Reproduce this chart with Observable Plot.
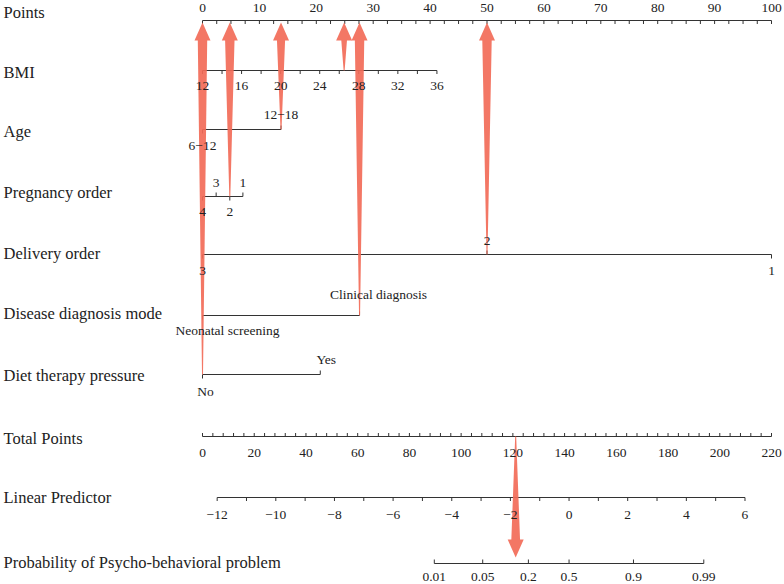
<!DOCTYPE html>
<html>
<head>
<meta charset="utf-8">
<script src="https://cdn.jsdelivr.net/npm/d3@7"></script>
<script src="https://cdn.jsdelivr.net/npm/@observablehq/plot@0.6"></script>
<style>
  body { margin: 0; background: #fff; }
  #chart svg { display: block; }
</style>
</head>
<body>
<div id="chart"></div>
<script>
// ---- Nomogram scales: values of each predictor and the points they score ----
const pointsTicks = d3.range(0, 101, 10);
const pointsMinorStep = 2.5;

const bmiTicks = [12, 16, 20, 24, 28, 32, 36];
const bmiMinorStep = 2;
const bmiRange = [12, 36];
const bmiPointsRange = [0, 41.2];

const ageLevels = ["6−12", "12−18"];
const agePoints = [0, 13.8];

const pregnancyLevels = ["4", "3", "2", "1"];
const pregnancyPoints = [0, 2.4, 4.8, 7.1];

const deliveryLevels = ["3", "2", "1"];
const deliveryPoints = [0, 50, 100];

const diagnosisLevels = ["Neonatal screening", "Clinical diagnosis"];
const diagnosisPoints = [0, 27.6];

const dietLevels = ["No", "Yes"];
const dietPoints = [0, 20.7];

const totalTicks = d3.range(0, 221, 20);
const totalMinorStep = 4;
const totalMax = 220;

const lpTicks = d3.range(-12, 7, 2);
const lpMinorStep = 1;
const lpRange = [-12, 6];
const lpIntercept = -12.5;   // linear predictor = intercept + slope * total points
const lpSlope = 0.0882;

const probTicks = [0.01, 0.05, 0.2, 0.5, 0.9, 0.99];

// ---- Worked example read through the nomogram ----
const exampleBMI = 26.5;
const exampleAge = "12−18";
const examplePregnancy = "2";
const exampleDelivery = "2";
const exampleDiagnosis = "Clinical diagnosis";
const exampleDiet = "No";

// ---- Layout ----
const W = 784, H = 584;
const layout = {
  left: 202, right: 771,
  titleX: 3,
  rows: {
    points: 20, bmi: 70, age: 129, pregnancy: 196, delivery: 254,
    diagnosis: 315, diet: 374, total: 436, lp: 497, prob: 563
  },
  titleY: {
    points: 12, bmi: 72, age: 131, pregnancy: 192, delivery: 253,
    diagnosis: 313, diet: 375, total: 438, lp: 497, prob: 562
  },
  above: { age: -15, pregnancy: -14, delivery: -14, diagnosis: -21, diet: -15 },
  below: { age: 16, pregnancy: 15, delivery: 16, diagnosis: 15, diet: 17 },
  labelShift: { "Clinical diagnosis": 19, "Neonatal screening": 25, "Yes": 6, "No": 3 }
};
const pxPerPoint = (layout.right - layout.left) / 100;
const px = d => d / pxPerPoint;                 // pixel offset in point units

// Conversions of each axis into the points scale
const bmiToPts = d3.scaleLinear(bmiRange, bmiPointsRange);
const totalToPts = t => t * 100 / totalMax;
const lpToPts = lp => totalToPts((lp - lpIntercept) / lpSlope);
const probToPts = p => lpToPts(Math.log(p / (1 - p)));

const titles = [
  ["points", "Points"], ["bmi", "BMI"], ["age", "Age"], ["pregnancy", "Pregnancy order"],
  ["delivery", "Delivery order"], ["diagnosis", "Disease diagnosis mode"],
  ["diet", "Diet therapy pressure"], ["total", "Total Points"],
  ["lp", "Linear Predictor"], ["prob", "Probability of Psycho-behavioral problem"]
].map(([key, text]) => ({ x: px(layout.titleX - layout.left), y: layout.titleY[key], text }));

const segments = [], ticks = [], labels = [];

function continuousAxis(row, lo, hi, toPts, minorStep, majors, fmt, tickDir, labelDy) {
  const y = layout.rows[row];
  segments.push({ x1: toPts(lo), x2: toPts(hi), y });
  const n = Math.round((hi - lo) / minorStep);
  for (let i = 0; i <= n; i++) {
    const v = lo + i * minorStep;
    ticks.push({ x: toPts(v), y1: y, y2: y + tickDir * 3.5 });
  }
  for (const v of majors) labels.push({ x: toPts(v), y: y + labelDy, text: fmt(v) });
}

function categoricalAxis(row, levels, pts) {
  const y = layout.rows[row];
  segments.push({ x1: d3.min(pts), x2: d3.max(pts), y });
  levels.forEach((lev, i) => {
    const up = i % 2 === 1;
    ticks.push({ x: pts[i], y1: y, y2: y + (up ? -4 : 4) });
    labels.push({
      x: pts[i] + px(layout.labelShift[lev] || 0),
      y: y + (up ? layout.above[row] : layout.below[row]),
      text: lev
    });
  });
}

continuousAxis("points", 0, 100, p => p, pointsMinorStep, pointsTicks, String, 1, -13);
continuousAxis("bmi", 12, 36, bmiToPts, bmiMinorStep, bmiTicks, String, 1, 15);
categoricalAxis("age", ageLevels, agePoints);
categoricalAxis("pregnancy", pregnancyLevels, pregnancyPoints);
categoricalAxis("delivery", deliveryLevels, deliveryPoints);
categoricalAxis("diagnosis", diagnosisLevels, diagnosisPoints);
categoricalAxis("diet", dietLevels, dietPoints);
continuousAxis("total", 0, totalMax, totalToPts, totalMinorStep, totalTicks, String, -1, 16);
continuousAxis("lp", lpRange[0], lpRange[1], lpToPts, lpMinorStep, lpTicks, d3.format("d"), 1, 17);

// Probability axis (logit-spaced)
{
  const y = layout.rows.prob;
  segments.push({ x1: probToPts(probTicks[0]), x2: probToPts(probTicks[probTicks.length - 1]), y });
  for (const p of probTicks) {
    ticks.push({ x: probToPts(p), y1: y, y2: y - 4 });
    labels.push({ x: probToPts(p), y: y + 13, text: String(p) });
  }
}

// ---- Arrows of the worked example ----
const pick = (levels, pts, v) => pts[levels.indexOf(v)];
const example = [
  { row: "bmi", pts: bmiToPts(exampleBMI) },
  { row: "age", pts: pick(ageLevels, agePoints, exampleAge) },
  { row: "pregnancy", pts: pick(pregnancyLevels, pregnancyPoints, examplePregnancy) },
  { row: "delivery", pts: pick(deliveryLevels, deliveryPoints, exampleDelivery) },
  { row: "diagnosis", pts: pick(diagnosisLevels, diagnosisPoints, exampleDiagnosis) },
  { row: "diet", pts: pick(dietLevels, dietPoints, exampleDiet) }
];
const exampleTotal = d3.sum(example, d => d.pts);

function arrow(id, cx, from, tip, dir) {
  const headLen = 18, headHalf = 8;
  const base = tip - dir * headLen;
  const len = Math.abs(from - base);
  const s = 2.2 + 2.5 * Math.min(1, len / 120);
  return [
    [cx, tip], [cx + px(headHalf), base], [cx + px(s), base],
    [cx + px(0.5), from], [cx - px(0.5), from], [cx - px(s), base], [cx - px(headHalf), base]
  ].map(([x, y]) => ({ id, x, y }));
}

const arrows = [];
example.forEach((d, i) => arrows.push(...arrow(i, d.pts, layout.rows[d.row], layout.rows.points + 2, -1)));
arrows.push(...arrow("total", totalToPts(exampleTotal), layout.rows.total, layout.rows.prob - 6, 1));

const ink = "#333";
const chart = Plot.plot({
  width: W, height: H,
  marginLeft: layout.left, marginRight: W - layout.right,
  marginTop: 0, marginBottom: 0,
  x: { domain: [0, 100], axis: null },
  y: { domain: [0, H], range: [0, H], axis: null },
  style: { fontFamily: "'Liberation Serif', 'Times New Roman', serif", background: "#fff", overflow: "visible" },
  marks: [
    Plot.link(segments, { x1: "x1", x2: "x2", y1: "y", y2: "y", stroke: ink, strokeWidth: 1 }),
    Plot.link(ticks, { x1: "x", x2: "x", y1: "y1", y2: "y2", stroke: ink, strokeWidth: 1 }),
    Plot.line(arrows, { x: "x", y: "y", z: "id", fill: "#f26b58", fillOpacity: 0.92, stroke: "none", curve: "linear-closed" }),
    Plot.text(labels, { x: "x", y: "y", text: "text", fontSize: 13.5, fill: "#222" }),
    Plot.text(titles, { x: "x", y: "y", text: "text", textAnchor: "start", fontSize: 16.5, fill: "#222" })
  ]
});
document.getElementById("chart").appendChild(chart);
</script>
</body>
</html>
